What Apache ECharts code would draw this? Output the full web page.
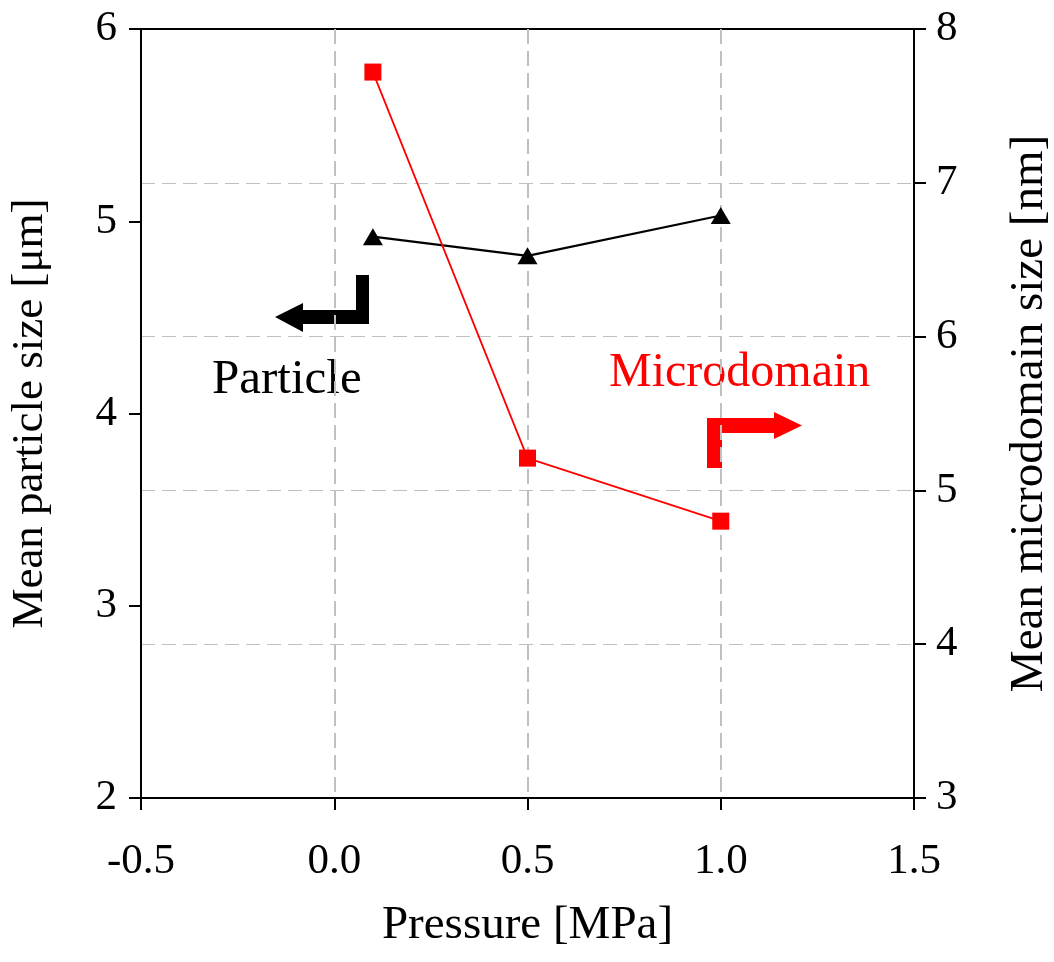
<!DOCTYPE html>
<html>
<head>
<meta charset="utf-8">
<script src="https://cdn.jsdelivr.net/npm/echarts@6/dist/echarts.min.js"></script>
<style>
html,body{margin:0;padding:0;background:#fff;}
#chart{width:1054px;height:962px;}
</style>
</head>
<body>
<div id="chart"></div>
<script>
const pressure = [0.1, 0.5, 1.0];
const particleSize = [4.92, 4.82, 5.03];
const microdomainSize = [7.72, 5.21, 4.80];
const xTitle = 'Pressure [MPa]';
const leftTitle = 'Mean particle size [μm]';
const rightTitle = 'Mean microdomain size [nm]';
const particleLabel = 'Particle';
const microLabel = 'Microdomain';

const FONT = '"Liberation Serif", "Times New Roman", serif';
const chart = echarts.init(document.getElementById('chart'));

const axisCommon = {
  axisLine: {show: true, onZero: false, lineStyle: {color: '#000', width: 2}},
  axisTick: {show: true, inside: false, length: 12, lineStyle: {color: '#000', width: 2}},
  axisLabel: {color: '#000', fontFamily: FONT, fontSize: 43},
  nameTextStyle: {color: '#000', fontFamily: FONT, fontSize: 47}
};

chart.setOption({
  animation: false,
  backgroundColor: '#fff',
  grid: {left: 141, right: 140, top: 29, bottom: 164, outerBoundsMode: 'none', containLabel: false,
         show: true, borderColor: '#000', borderWidth: 2, backgroundColor: 'transparent'},
  xAxis: Object.assign({}, axisCommon, {
    type: 'value', min: -0.5, max: 1.5, interval: 0.5,
    name: xTitle, nameLocation: 'middle', nameGap: 104,
    axisLabel: Object.assign({}, axisCommon.axisLabel, {margin: 42, formatter: v => v.toFixed(1)}),
    splitLine: {show: true, showMinLine: false, showMaxLine: false, lineStyle: {color: '#c0c0c0', width: 2, type: [15, 7]}}
  }),
  yAxis: [
    Object.assign({}, axisCommon, {
      type: 'value', min: 2, max: 6, interval: 1, position: 'left',
      name: leftTitle, nameLocation: 'middle', nameRotate: 90, nameGap: 88,
      nameTextStyle: Object.assign({}, axisCommon.nameTextStyle, {fontSize: 45}),
      axisLabel: Object.assign({}, axisCommon.axisLabel, {margin: 24}),
      splitLine: {show: false}
    }),
    Object.assign({}, axisCommon, {
      type: 'value', min: 3, max: 8, interval: 1, position: 'right',
      name: rightTitle, nameLocation: 'middle', nameRotate: 90, nameGap: 92,
      axisLabel: Object.assign({}, axisCommon.axisLabel, {margin: 22}),
      splitLine: {show: true, showMinLine: false, showMaxLine: false, lineStyle: {color: '#c0c0c0', width: 1.2, type: [14, 7]}}
    })
  ],
  series: [
    {
      name: particleLabel, type: 'line', yAxisIndex: 0,
      data: pressure.map((p, i) => [p, particleSize[i]]),
      symbol: 'triangle', symbolSize: [20, 17],
      lineStyle: {color: '#000', width: 2.2},
      itemStyle: {color: '#000'}
    },
    {
      name: microLabel, type: 'line', yAxisIndex: 1,
      data: pressure.map((p, i) => [p, microdomainSize[i]]),
      symbol: 'rect', symbolSize: 17,
      lineStyle: {color: '#ff0000', width: 1.8},
      itemStyle: {color: '#ff0000'}
    }
  ],
  graphic: [
    {type: 'text', left: 212, top: 356, style: {text: particleLabel, fill: '#000', font: '49px ' + FONT}},
    {type: 'text', left: 609, top: 349, style: {text: microLabel, fill: '#ff0000', font: '48px ' + FONT}},
    {type: 'polygon', shape: {points: [[369,275],[369,324],[303,324],[303,332],[275,317],[303,303],[303,310],[356,310],[356,275]]}, style: {fill: '#000'}},
    {type: 'polygon', shape: {points: [[707,468],[707,418],[774,418],[774,412],[802,425.5],[774,439],[774,433],[722,433],[722,468]]}, style: {fill: '#ff0000'}}
  ]
});
</script>
</body>
</html>
